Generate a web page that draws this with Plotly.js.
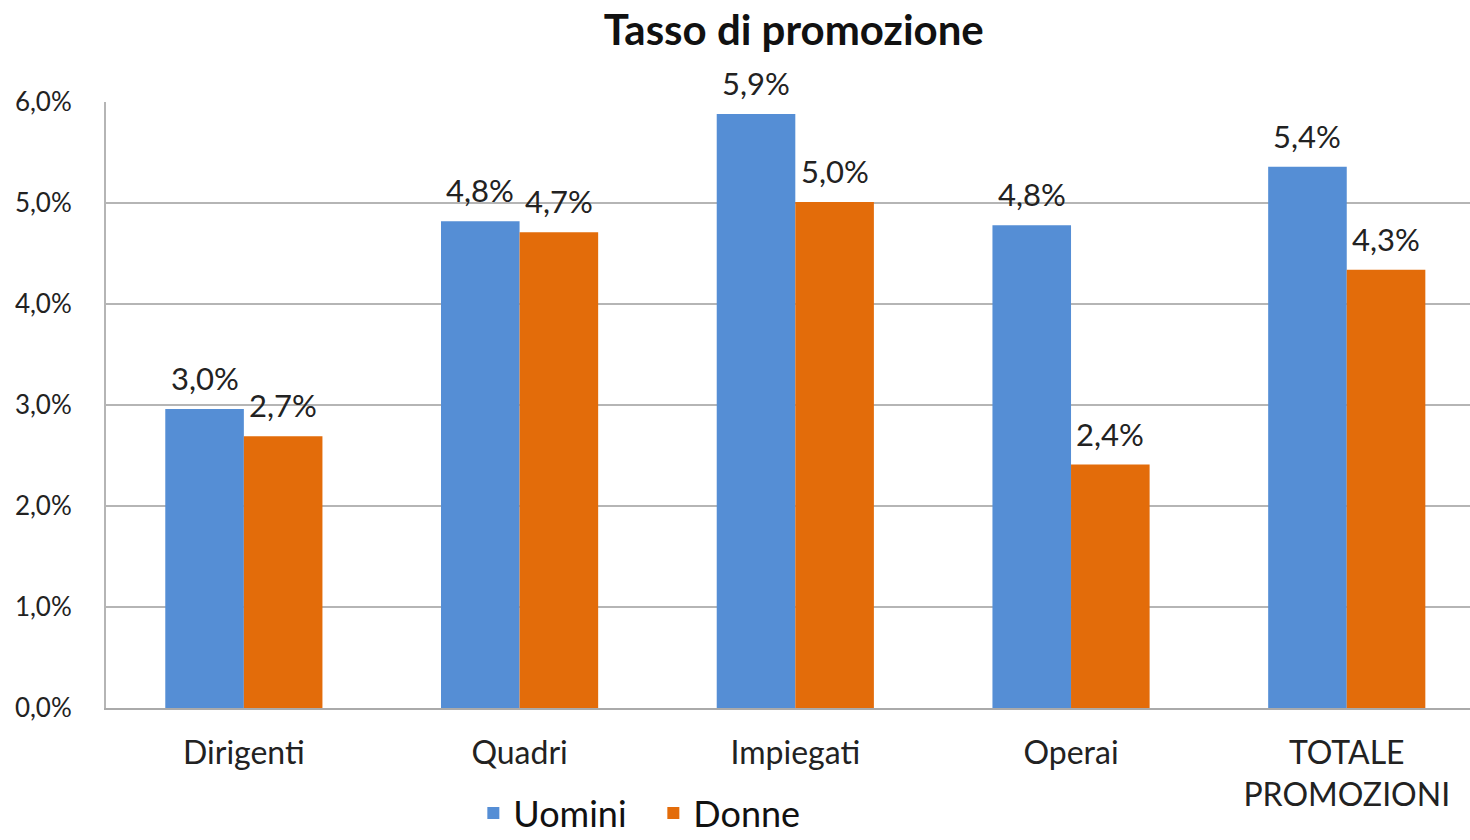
<!DOCTYPE html>
<html><head><meta charset="utf-8">
<script src="https://cdn.plot.ly/plotly-3.0.1.min.js"></script>
<style>html,body{margin:0;padding:0;background:#fff}#chart{width:1470px;height:840px}</style>
</head><body><div id="chart"></div>
<script>
const categories = ["Dirigenti", "Quadri", "Impiegati", "Operai", "TOTALE<br>PROMOZIONI"];
const uomini = [0.0296, 0.0482, 0.0588, 0.0478, 0.0536];
const donne = [0.0269, 0.0471, 0.0501, 0.0241, 0.0434];
const seriesNames = ["Uomini", "Donne"];
const seriesColors = ["#558ED5", "#E36C0A"];

const FONT = "Lato, 'Open Sans', sans-serif";
const BARGAP = 0.43;
const traces = [uomini, donne].map((vals, k) => ({
  type: "bar", name: seriesNames[k], x: categories.map((c, i) => i), y: vals,
  marker: {color: seriesColors[k]}, hoverinfo: "skip"
}));

// value labels placed via axis coordinates (category index, value)
const fmt = v => (v * 100).toFixed(1).replace(".", ",") + "%";
const half = (1 - BARGAP) / 4;
const annotations = [];
[uomini, donne].forEach((vals, k) => {
  vals.forEach((v, i) => {
    annotations.push({
      x: i + (k === 0 ? -half : half), y: v, xref: "x", yref: "y",
      text: fmt(v), showarrow: false, yanchor: "bottom", xanchor: "center", yshift: 10,
      font: {family: FONT, size: 31, color: "#222"}
    });
  });
});

const layout = {
  width: 1470, height: 840,
  separators: ",.",
  paper_bgcolor: "#fff", plot_bgcolor: "#fff",
  margin: {l: 106, r: 0, t: 102, b: 132},
  title: {text: "<b>Tasso di promozione</b>", x: 0.54, xanchor: "center", y: 0.964, yanchor: "middle",
          font: {family: FONT, size: 42, color: "#111"}},
  barmode: "group", bargap: BARGAP, bargroupgap: 0,
  xaxis: {range: [-0.5, 4.447], tickmode: "array", tickvals: categories.map((c, i) => i), ticktext: categories,
          showgrid: false, showline: true, linecolor: "#aaa", linewidth: 2, ticks: "", automargin: false,
          ticklabelstandoff: 16, tickfont: {family: FONT, size: 32, color: "#222"}},
  yaxis: {range: [0, 0.06], dtick: 0.01, tickformat: ".1%", showgrid: true, gridcolor: "#b5b5b5", gridwidth: 2,
          showline: true, linecolor: "#b5b5b5", linewidth: 2, zeroline: false, ticks: "", automargin: false,
          ticklabelstandoff: 27, tickfont: {family: FONT, size: 26, color: "#222"}},
  legend: {orientation: "h", xref: "container", yref: "container", x: 0.322, xanchor: "left", y: 0.032, yanchor: "middle",
           font: {family: FONT, size: 36, color: "#111"}, tracegroupgap: 0, entrywidth: 135},
  annotations: annotations,
  showlegend: true
};
Plotly.newPlot("chart", traces, layout, {displayModeBar: false});
</script></body></html>
